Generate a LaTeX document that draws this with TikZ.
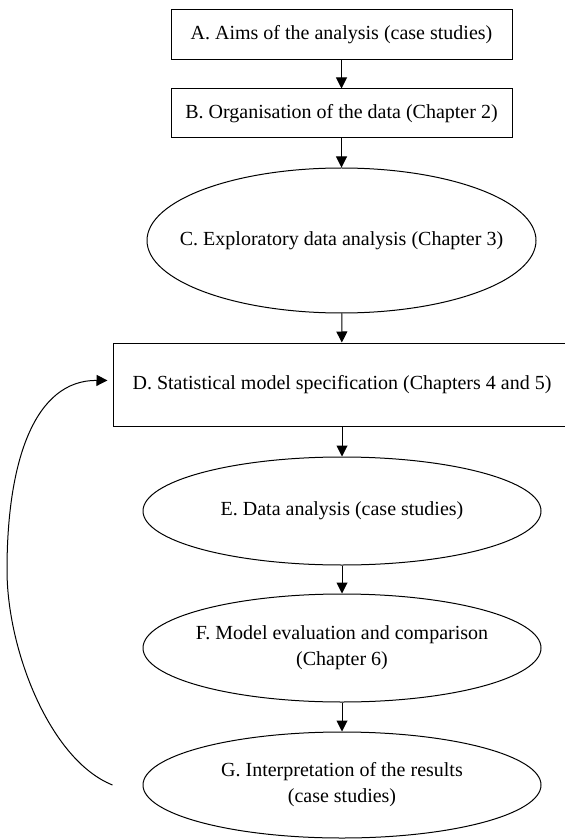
\documentclass[tikz,border=0pt]{standalone}
\usepackage{fontspec}
\setmainfont{Liberation Serif}
\usetikzlibrary{arrows.meta, shapes.geometric}

\begin{document}
\begin{tikzpicture}[x=0.5pt, y=-0.5pt, line width=0.5pt,
    box/.style={draw, rectangle, inner sep=0pt, align=center, font=\fontsize{10}{13}\selectfont},
    oval/.style={draw, ellipse, inner xsep=-60pt, inner ysep=-30pt, align=center, font=\fontsize{10}{13}\selectfont},
    arr/.style={-{Triangle[length=5.5pt, width=5.5pt]}}]
    % Page frame
    \clip (0,0) rectangle (565,839);

    % Draw stages
    \node[box, minimum width=170.5pt, minimum height=25pt] (a) at (341.5,35) {A. Aims of the analysis (case studies)};
    \node[box, minimum width=170.5pt, minimum height=24.5pt] (b) at (341.5,113.5) {B. Organisation of the data (Chapter 2)};
    \node[oval, minimum width=194.5pt, minimum height=72.5pt] (c) at (341.5,240.5) {C. Exploratory data analysis (Chapter 3)};
    \node[box, minimum width=229pt, minimum height=41.5pt] (d) at (342,384.5) {D. Statistical model specification (Chapters 4 and 5)};
    \node[oval, minimum width=199pt, minimum height=54pt] (e) at (342,511) {E. Data analysis (case studies)};
    \node[oval, minimum width=199pt, minimum height=54pt] (f) at (342,648) {F. Model evaluation and comparison\\(Chapter 6)};
    \node[oval, minimum width=199pt, minimum height=53pt] (g) at (342,785) {G. Interpretation of the results\\(case studies)};

    % Draw arrows
    \draw[arr] (a) -- (b);
    \draw[arr] (b) -- (c);
    \draw[arr] (c) -- (d);
    \draw[arr] (d) -- (e);
    \draw[arr] (e) -- (f);
    \draw[arr] (f) -- (g);

    % Feedback loop
    \coordinate (gback) at ([xshift=-15pt]g.west);
    \coordinate (bend) at (7,570);
    \draw[arr, shorten >=2.5pt] (gback) .. controls (50,760) and (7,650) .. (bend)
        .. controls (7,460) and (35,380) .. ([yshift=2pt]d.west);
\end{tikzpicture}
\end{document}
